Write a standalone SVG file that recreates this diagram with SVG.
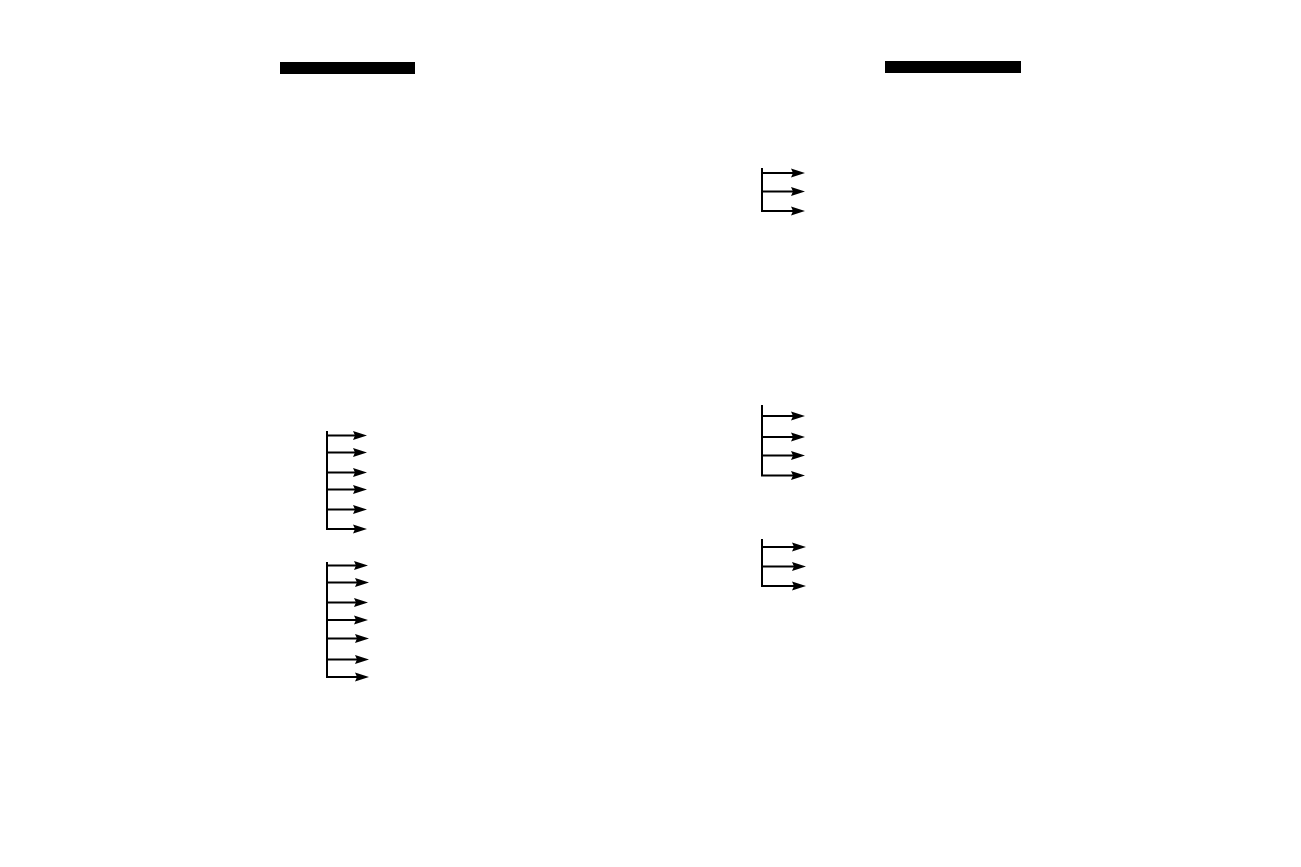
<svg xmlns="http://www.w3.org/2000/svg" width="1301" height="867" viewBox="0 0 1301 867">
<style>
.bar{fill:#000}
.spine{stroke:#000;stroke-width:2;fill:none}
.arr{stroke:#000;stroke-width:2;fill:none;marker-end:url(#ah)}
</style>
<defs>
<marker id="ah" markerUnits="userSpaceOnUse" markerWidth="16" markerHeight="10" refX="0" refY="0" viewBox="-8 -5 16 10" orient="auto" overflow="visible">
<path d="M-8,-4.5 L6,0 L-8,4.5 L-6,0 z" fill="#000"/>
</marker>
</defs>
<rect width="1301" height="867" fill="#fff"/>
<g id="bar-left"><rect class="bar" x="280" y="62" width="135" height="12"/></g>
<g id="bar-right"><rect class="bar" x="885" y="61" width="136" height="12"/></g>
<g id="connectors">
<g id="left-group-1">
<path class="spine" d="M327,431 V530"/>
<path class="arr" d="M326,435.5 H361"/>
<path class="arr" d="M326,452.5 H361"/>
<path class="arr" d="M326,472.5 H361"/>
<path class="arr" d="M326,489.5 H361"/>
<path class="arr" d="M326,509.5 H361"/>
<path class="arr" d="M326,529 H361"/>
</g>
<g id="left-group-2">
<path class="spine" d="M327,562 V678"/>
<path class="arr" d="M326,565.5 H362"/>
<path class="arr" d="M326,582.5 H363"/>
<path class="arr" d="M326,602.5 H362"/>
<path class="arr" d="M326,620 H362"/>
<path class="arr" d="M326,638.5 H363"/>
<path class="arr" d="M326,659.5 H363"/>
<path class="arr" d="M326,677 H363"/>
</g>
<g id="right-group-1">
<path class="spine" d="M762,168 V212"/>
<path class="arr" d="M761,173 H799"/>
<path class="arr" d="M761,191.5 H799"/>
<path class="arr" d="M761,211 H799"/>
</g>
<g id="right-group-2">
<path class="spine" d="M762,405 V476"/>
<path class="arr" d="M761,416 H799"/>
<path class="arr" d="M761,437 H799"/>
<path class="arr" d="M761,455.5 H799"/>
<path class="arr" d="M761,475.5 H799"/>
</g>
<g id="right-group-3">
<path class="spine" d="M762,539 V587"/>
<path class="arr" d="M761,547 H800"/>
<path class="arr" d="M761,566.5 H800"/>
<path class="arr" d="M761,586 H800"/>
</g>
</g>
</svg>
